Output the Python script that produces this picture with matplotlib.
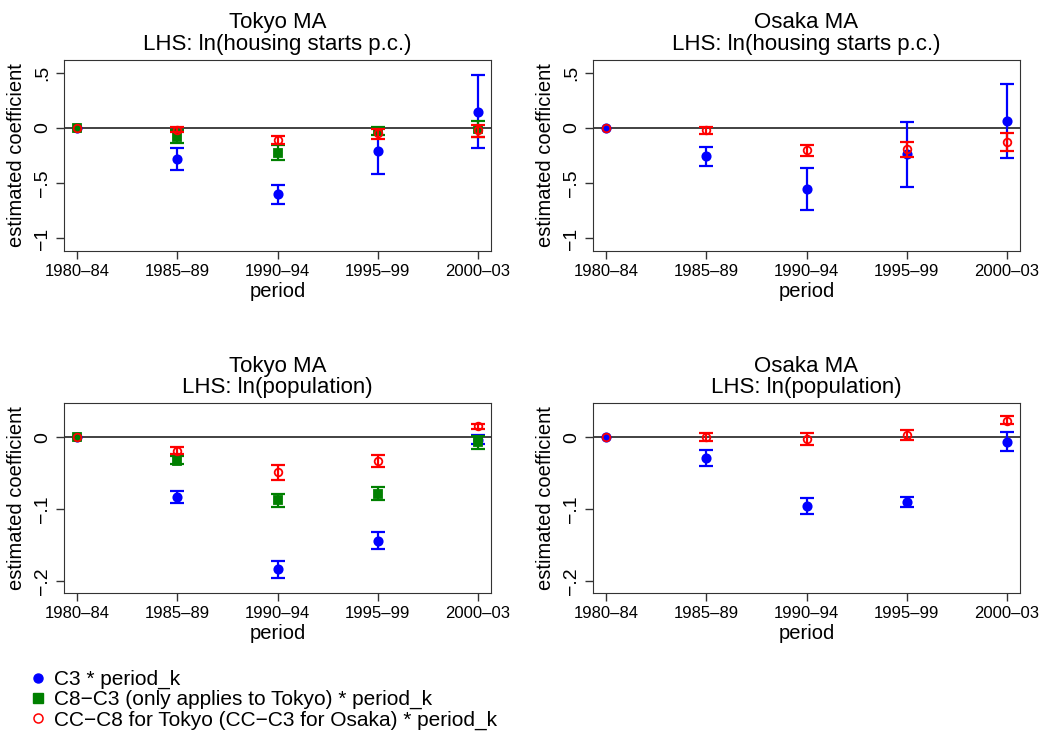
import numpy as np
from matplotlib import pyplot as plt
from matplotlib.lines import Line2D

plt.rcParams['font.family'] = ['Liberation Sans', 'DejaVu Sans']

periods = ["1980–84", "1985–89", "1990–94", "1995–99", "2000–03"]

# Tokyo, ln(housing starts p.c.)
tk_house_c3 = [0, -0.28, -0.60, -0.205, 0.148]
tk_house_c3_lo = [0, -0.38, -0.69, -0.42, -0.18]
tk_house_c3_hi = [0, -0.178, -0.513, -0.003, 0.483]
tk_house_c8 = [0, -0.078, -0.223, -0.027, -0.012]
tk_house_c8_lo = [0, -0.136, -0.29, -0.063, -0.078]
tk_house_c8_hi = [0, -0.018, -0.154, 0.012, 0.066]
tk_house_cc = [0, -0.018, -0.109, -0.048, -0.021]
tk_house_cc_lo = [0, -0.04, -0.148, -0.097, -0.084]
tk_house_cc_hi = [0, 0.012, -0.072, -0.006, 0.03]

# Osaka, ln(housing starts p.c.)
os_house_c3 = [0, -0.253, -0.552, -0.238, 0.063]
os_house_c3_lo = [0, -0.34, -0.739, -0.531, -0.268]
os_house_c3_hi = [0, -0.175, -0.362, 0.057, 0.398]
os_house_cc = [0, -0.021, -0.202, -0.193, -0.124]
os_house_cc_lo = [0, -0.051, -0.253, -0.262, -0.205]
os_house_cc_hi = [0, 0.012, -0.154, -0.124, -0.045]

# Tokyo, ln(population)
tk_pop_c3 = [0, -0.0833, -0.184, -0.144, -0.004]
tk_pop_c3_lo = [0, -0.0917, -0.196, -0.156, -0.009]
tk_pop_c3_hi = [0, -0.0745, -0.172, -0.132, 0.003]
tk_pop_c8 = [0, -0.033, -0.088, -0.079, -0.0065]
tk_pop_c8_lo = [0, -0.038, -0.097, -0.0875, -0.016]
tk_pop_c8_hi = [0, -0.027, -0.079, -0.070, 0.001]
tk_pop_cc = [0, -0.019, -0.049, -0.033, 0.0148]
tk_pop_cc_lo = [0, -0.023, -0.059, -0.041, 0.0106]
tk_pop_cc_hi = [0, -0.014, -0.039, -0.025, 0.0185]

# Osaka, ln(population)
os_pop_c3 = [0, -0.0287, -0.0958, -0.0907, -0.0065]
os_pop_c3_lo = [0, -0.040, -0.1065, -0.097, -0.019]
os_pop_c3_hi = [0, -0.0176, -0.0847, -0.0838, 0.0065]
os_pop_cc = [0, 0.0, -0.003, 0.003, 0.023]
os_pop_cc_lo = [0, -0.0056, -0.0106, -0.0046, 0.018]
os_pop_cc_hi = [0, 0.006, 0.005, 0.0097, 0.029]

BLUE = "#0000ff"
GREEN = "#008000"
RED = "#ff0000"


def draw_series(ax, y, lo, hi, color, marker, mfc, ms, zorder):
    x = np.arange(1, len(y) + 1)
    y = np.array(y)
    lo = np.array(lo)
    hi = np.array(hi)
    # baseline period has no interval
    ax.errorbar(x[1:], y[1:], yerr=[y[1:] - lo[1:], hi[1:] - y[1:]],
                fmt="none", ecolor=color, elinewidth=1.6, capsize=5,
                capthick=1.6, zorder=zorder)
    ax.plot(x, y, linestyle="none", marker=marker, color=color,
            markerfacecolor=mfc, markeredgewidth=1.3, markersize=ms,
            zorder=zorder + 0.5)


def setup(ax, title, ylim, yticks, yticklabels):
    ax.axhline(0, color="#333333", linewidth=1.3, zorder=1)
    ax.set_xlim(0.87, 5.13)
    ax.set_ylim(*ylim)
    ax.set_xticks(np.arange(1, 6))
    ax.set_xticklabels(periods, fontsize=12)
    ax.set_yticks(yticks)
    ax.set_yticklabels(yticklabels, fontsize=14, rotation=90, va="center")
    ax.tick_params(length=6, width=1, color="#333333")
    ax.set_xlabel("period", fontsize=14.5, labelpad=2)
    ax.set_ylabel("estimated coefficient", fontsize=14.5, labelpad=6)
    ax.set_title(title, fontsize=16, linespacing=1.05, pad=7)
    for s in ax.spines.values():
        s.set_color("#333333")


fig = plt.figure(figsize=(10.43, 7.36), dpi=100)

ax1 = fig.add_axes([0.0614, 0.659, 0.4094, 0.2595])
ax2 = fig.add_axes([0.5686, 0.659, 0.4094, 0.2595])
ax3 = fig.add_axes([0.0614, 0.1943, 0.4094, 0.258])
ax4 = fig.add_axes([0.5686, 0.1943, 0.4094, 0.258])

house_ticks = [-1, -0.5, 0, 0.5]
house_labels = ["−1", "−.5", "0", ".5"]
pop_ticks = [-0.2, -0.1, 0]
pop_labels = ["−.2", "−.1", "0"]

setup(ax1, "Tokyo MA\nLHS: ln(housing starts p.c.)", (-1.113, 0.615), house_ticks, house_labels)
draw_series(ax1, tk_house_c3, tk_house_c3_lo, tk_house_c3_hi, BLUE, "o", BLUE, 6, 3)
draw_series(ax1, tk_house_c8, tk_house_c8_lo, tk_house_c8_hi, GREEN, "s", GREEN, 5.5, 4)
draw_series(ax1, tk_house_cc, tk_house_cc_lo, tk_house_cc_hi, RED, "o", "none", 5.5, 5)

setup(ax2, "Osaka MA\nLHS: ln(housing starts p.c.)", (-1.113, 0.615), house_ticks, house_labels)
draw_series(ax2, os_house_c3, os_house_c3_lo, os_house_c3_hi, BLUE, "o", BLUE, 6, 3)
draw_series(ax2, os_house_cc, os_house_cc_lo, os_house_cc_hi, RED, "o", "none", 5.5, 5)

setup(ax3, "Tokyo MA\nLHS: ln(population)", (-0.2167, 0.0472), pop_ticks, pop_labels)
draw_series(ax3, tk_pop_c3, tk_pop_c3_lo, tk_pop_c3_hi, BLUE, "o", BLUE, 6, 3)
draw_series(ax3, tk_pop_c8, tk_pop_c8_lo, tk_pop_c8_hi, GREEN, "s", GREEN, 5.5, 4)
draw_series(ax3, tk_pop_cc, tk_pop_cc_lo, tk_pop_cc_hi, RED, "o", "none", 5.5, 5)

setup(ax4, "Osaka MA\nLHS: ln(population)", (-0.2167, 0.0472), pop_ticks, pop_labels)
draw_series(ax4, os_pop_c3, os_pop_c3_lo, os_pop_c3_hi, BLUE, "o", BLUE, 6, 3)
draw_series(ax4, os_pop_cc, os_pop_cc_lo, os_pop_cc_hi, RED, "o", "none", 5.5, 5)

handles = [
    Line2D([], [], linestyle="none", marker="o", color=BLUE, markersize=6.5),
    Line2D([], [], linestyle="none", marker="s", color=GREEN, markersize=6.5),
    Line2D([], [], linestyle="none", marker="o", color=RED, markerfacecolor="none",
           markeredgewidth=1.1, markersize=6.5),
]
labels = [
    "C3 * period_k",
    "C8−C3 (only applies to Tokyo) * period_k",
    "CC−C8 for Tokyo (CC−C3 for Osaka) * period_k",
]
fig.legend(handles, labels, loc="upper left", bbox_to_anchor=(0.02, 0.104),
           frameon=False, fontsize=15, handlelength=0.6, handletextpad=0.5,
           labelspacing=0.05, borderpad=0)

fig.savefig("out.png", dpi=100)
